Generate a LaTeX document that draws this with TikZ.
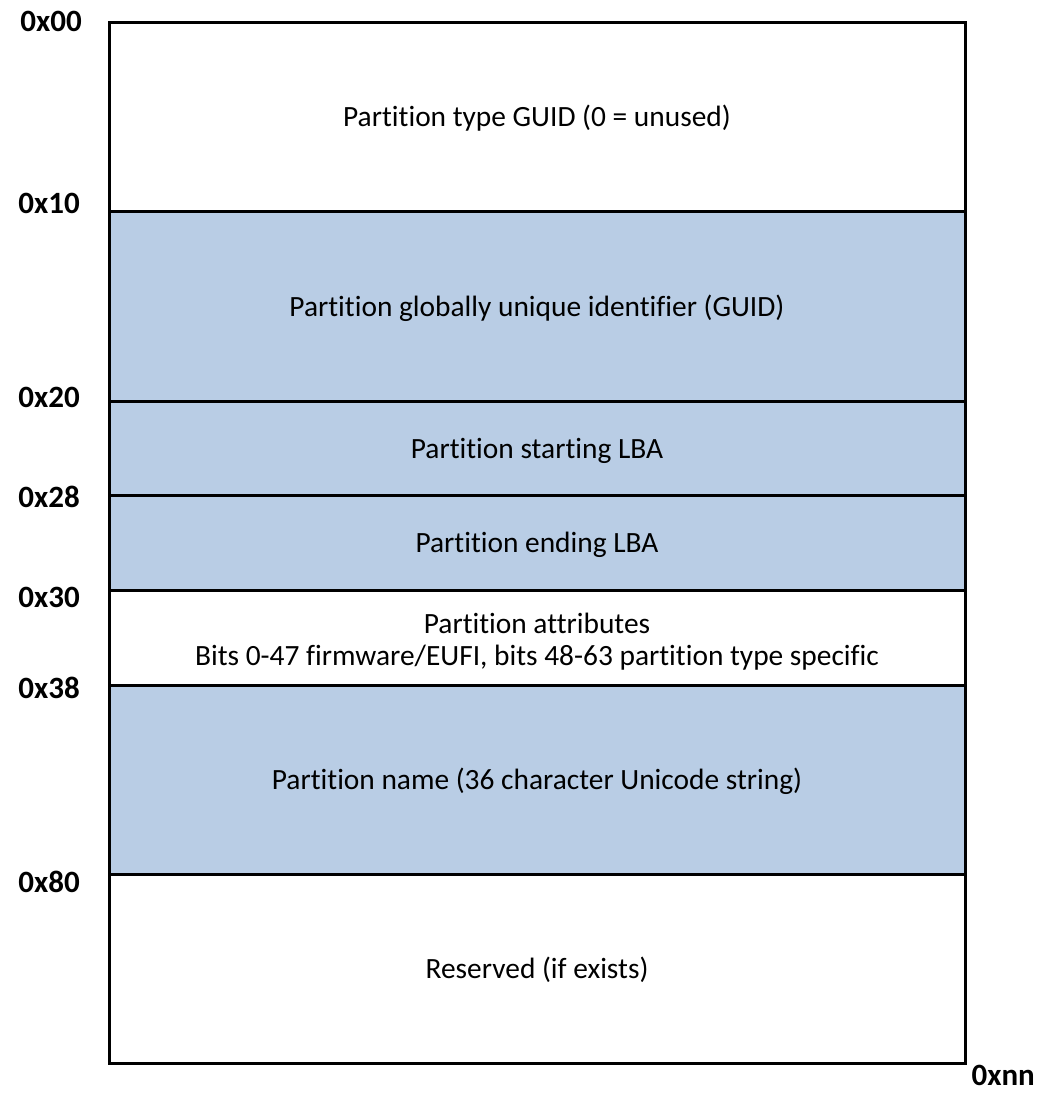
\documentclass[tikz,border=0pt]{standalone}
\usepackage{fontspec}
\setmainfont[Ligatures={NoCommon,NoRare}]{Carlito}
\definecolor{fieldblue}{HTML}{B9CDE5}
\begin{document}
\begin{tikzpicture}[x=1pt,y=-1pt,
  field/.style={fill=fieldblue,draw=none},
  rule/.style={draw=black,line width=3pt},
  desc/.style={anchor=base,inner sep=0pt,font=\fontsize{29.4}{30}\selectfont},
  offs/.style={anchor=base east,inner sep=0pt,font=\fontsize{31}{31}\selectfont\bfseries}]
\useasboundingbox (0,0) rectangle (1040,1094);
% shaded fields
\path[field] (109.5,211) rectangle (965,590);
\path[field] (109.5,685) rectangle (965,874);
% field boundaries
\coordinate (tl) at (109.5,22.5);
\coordinate (br) at (965,1063);
\draw[rule] (tl) rectangle (br);
\foreach \y in {211,401,495,590,685,874}
  \draw[rule] (109.5,\y) -- (965,\y);
% field descriptions
\node[desc] (f1) at (537,127) {Partition type GUID (0 = unused)};
\node[desc] (f2) at (537,316) {Partition globally unique identifier (GUID)};
\node[desc] (f3) at (537,458) {Partition starting LBA};
\node[desc] (f4) at (537,552.5) {Partition ending LBA};
\node[desc] (f5a) at (537,633) {Partition attributes};
\node[desc] (f5b) at (537,665) {Bits 0-47 firmware/EUFI, bits 48-63 partition type specific};
\node[desc] (f6) at (537,789.5) {Partition name (36 character Unicode string)};
\node[desc] (f7) at (537,978.5) {Reserved (if exists)};
% byte offsets
\node[offs] (o00) at (82,32) {0x00};
\node[offs] (o10) at (80,213) {0x10};
\node[offs] (o20) at (80,407) {0x20};
\node[offs] (o28) at (80,507) {0x28};
\node[offs] (o30) at (80,607) {0x30};
\node[offs] (o38) at (80,698) {0x38};
\node[offs] (o80) at (80,892) {0x80};
\node[offs] (onn) at (1035,1085) {0xnn};
\end{tikzpicture}
\end{document}
